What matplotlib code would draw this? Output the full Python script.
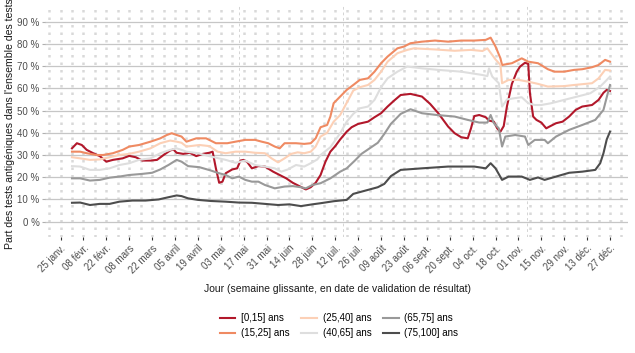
import matplotlib
matplotlib.use('Agg')
import matplotlib.pyplot as plt
import matplotlib.ticker as mticker
import pandas as pd

plt.rcParams['font.family'] = ['Liberation Sans', 'DejaVu Sans']

# Part des tests antigéniques (%), année 2021
dates_0_15 = ['02-01', '02-04', '02-07', '02-10', '02-14', '02-18', '02-22', '02-26', '03-04', '03-08',
              '03-12', '03-16', '03-21', '03-25', '03-29', '04-02', '04-04', '04-06', '04-10', '04-14',
              '04-18', '04-22', '04-26', '04-28', '04-30', '05-02', '05-04', '05-06', '05-10', '05-13',
              '05-15', '05-17', '05-19', '05-22', '05-26', '05-30', '06-04', '06-08', '06-12', '06-16',
              '06-20', '06-24', '06-27', '06-30', '07-03', '07-06', '07-09', '07-12', '07-15', '07-19',
              '07-22', '07-26', '08-01', '08-05', '08-09', '08-13', '08-17', '08-21', '08-27', '09-03',
              '09-08', '09-13', '09-19', '09-23', '09-27', '10-01', '10-03', '10-05', '10-08', '10-12',
              '10-14', '10-17', '10-19', '10-21', '10-23', '10-25', '10-28', '10-31', '11-02', '11-05',
              '11-07', '11-08', '11-10', '11-12', '11-15', '11-18', '11-20', '11-24', '11-28', '12-02',
              '12-06', '12-10', '12-16', '12-20', '12-23', '12-25', '12-27']
part_0_15 = [33, 35.3, 34.5, 32.3, 30.8, 29.5, 27, 27.8, 28.5, 29.6,
             29, 27.5, 27.5, 27.8, 30, 32, 32.5, 31, 30.5, 31,
             29.5, 30.5, 31, 31.5, 24, 17.5, 18, 21.8, 23.5, 24,
             27.5, 27.8, 27, 24, 25, 24.8, 22.5, 21, 19.5, 17.5,
             16, 14.5, 15.5, 17.5, 21, 27, 31.5, 34, 37, 40.5,
             42.5, 44, 45, 47, 48.8, 51.8, 54.5, 57, 57.5, 56.3,
             53, 48.8, 42.8, 39.8, 38, 37.5, 42, 47.5, 48, 47,
             45.5, 45, 42, 40.5, 43, 52, 62, 67.5, 69.8, 71.5,
             71, 58, 47.3, 45.8, 44.6, 42, 42.8, 44.3, 45, 47.3,
             50.3, 51.8, 52.5, 54.8, 58, 59.3, 58.8]

dates_15_25 = ['02-01', '02-06', '02-10', '02-16', '02-20', '02-26', '03-04', '03-08', '03-14', '03-21',
               '03-27', '03-31', '04-03', '04-06', '04-09', '04-12', '04-18', '04-24', '04-30', '05-07',
               '05-12', '05-18', '05-24', '05-28', '06-01', '06-05', '06-08', '06-11', '06-14', '06-18',
               '06-23', '06-27', '06-30', '07-03', '07-07', '07-09', '07-11', '07-15', '07-19', '07-23',
               '07-27', '08-01', '08-05', '08-09', '08-13', '08-19', '08-23', '08-27', '09-03', '09-11',
               '09-19', '09-27', '10-05', '10-12', '10-15', '10-16', '10-18', '10-21', '10-22', '10-28',
               '11-03', '11-07', '11-13', '11-19', '11-23', '11-29', '12-05', '12-10', '12-16', '12-20',
               '12-24', '12-27']
part_15_25 = [31.5, 31.5, 30.8, 30, 30, 30.8, 32.3, 33.8, 34.5, 36,
              37.5, 39, 39.8, 39, 38.3, 36, 37.5, 37.5, 35.3, 35.3,
              36, 36.8, 36.8, 36, 35.3, 33.8, 33, 35.3, 35.3, 35.3,
              35, 35.3, 37.5, 42.5, 43.5, 47.3, 53.3, 56.3, 59.3, 61.5,
              63.8, 64.5, 67.5, 71.3, 74.3, 78, 78.8, 80.3, 81, 81.5,
              81, 81.5, 81.5, 81.8, 82.8, 81.5, 78.8, 73.5, 70.5, 71.3,
              73.5, 72, 71.3, 68.6, 67.5, 67.5, 68.3, 68.6, 69.5, 70.5,
              72.8, 72]

dates_25_40 = ['02-01', '02-06', '02-12', '02-18', '02-24', '03-02', '03-08', '03-14', '03-21', '03-27',
               '04-02', '04-06', '04-09', '04-12', '04-20', '04-26', '05-01', '05-06', '05-12', '05-18',
               '05-24', '05-30', '06-03', '06-07', '06-11', '06-15', '06-19', '06-23', '06-27', '06-30',
               '07-03', '07-07', '07-11', '07-15', '07-19', '07-23', '07-27', '08-01', '08-05', '08-09',
               '08-13', '08-19', '08-25', '08-29', '09-11', '09-23', '10-03', '10-10', '10-13', '10-16',
               '10-18', '10-21', '10-22', '10-26', '11-01', '11-07', '11-13', '11-19', '11-29', '12-05',
               '12-16', '12-20', '12-24', '12-27']
part_25_40 = [29, 28.5, 27.8, 28, 29, 30, 30.5, 31.5, 33, 35.3,
              36.5, 36, 35.5, 33.8, 34.5, 34, 31.5, 30.8, 31.5, 31.5,
              31, 30.8, 28.5, 26.7, 28.5, 30.5, 31.2, 30.8, 31.5, 33.8,
              38.3, 40, 45, 48, 53.5, 59, 60.5, 61.5, 63.8, 67.5,
              72, 75.8, 77.3, 78, 77.5, 76.9, 77.3, 76.8, 78, 75,
              73, 70.5, 62.3, 63.8, 63.8, 63, 62, 60.8, 61, 61.5,
              62.3, 64.5, 68.3, 68]

dates_40_65 = ['02-01', '02-06', '02-12', '02-18', '02-24', '03-02', '03-08', '03-14', '03-21', '03-27',
               '04-02', '04-06', '04-09', '04-12', '04-19', '04-27', '05-06', '05-12', '05-18', '05-24',
               '05-30', '06-05', '06-09', '06-13', '06-18', '06-23', '06-27', '07-01', '07-03', '07-09',
               '07-15', '07-19', '07-23', '07-27', '08-01', '08-05', '08-09', '08-13', '08-19', '08-25',
               '09-03', '09-13', '09-27', '10-10', '10-13', '10-14', '10-16', '10-20', '10-22', '10-25',
               '10-29', '11-03', '11-07', '11-11', '11-15', '11-21', '11-29', '12-07', '12-15', '12-21',
               '12-24', '12-27']
part_40_65 = [25, 24.8, 23.3, 23.3, 24, 25.5, 26.3, 27.8, 28.5, 30.8,
              32.3, 33, 32.3, 31.5, 30.8, 29.3, 27.8, 26.5, 27.5, 25.5,
              24.8, 24, 22.5, 23.5, 25.5, 24.8, 26.3, 28, 30, 33.5,
              39.8, 45, 48.5, 51, 51.8, 54.8, 60.5, 64.5, 67.5, 69.8,
              69, 68.3, 67.5, 66, 65.5, 69, 65.3, 62.3, 51.8, 55,
              55.5, 56, 53.3, 52.5, 52.5, 53.3, 54.8, 56.3, 57.8, 60.8,
              63, 65.3]

dates_65_75 = ['02-01', '02-06', '02-12', '02-18', '02-24', '03-02', '03-08', '03-16', '03-22', '03-27',
               '04-01', '04-06', '04-09', '04-13', '04-20', '04-27', '05-01', '05-06', '05-10', '05-14',
               '05-18', '05-22', '05-26', '05-30', '06-05', '06-11', '06-16', '06-21', '06-24', '06-28',
               '07-03', '07-09', '07-15', '07-19', '07-24', '07-28', '08-01', '08-07', '08-11', '08-15',
               '08-21', '08-27', '09-03', '09-12', '09-23', '10-01', '10-08', '10-13', '10-15', '10-17',
               '10-20', '10-22', '10-24', '10-30', '11-05', '11-07', '11-11', '11-17', '11-19', '11-24',
               '12-02', '12-10', '12-18', '12-23', '12-25', '12-27']
part_65_75 = [19.5, 19.5, 18.5, 18.8, 19.8, 20.3, 21, 21.5, 22, 23.5,
              25.5, 27.8, 27, 25, 24.5, 23, 22, 21, 19.5, 20.3,
              18.8, 18, 18, 16.5, 15, 15.8, 16, 15.5, 15, 16.5,
              17.3, 19.5, 22.5, 24, 27.5, 30.5, 32.5, 35.5, 39.5, 44,
              48.5, 50.6, 48.8, 48, 47.3, 45.8, 44.6, 44.6, 48, 44.3,
              42, 33.8, 38.3, 39, 38.3, 34.5, 36.8, 36.8, 35.3, 38.3,
              41.3, 43.5, 45.8, 50.3, 56, 61.5]

dates_75_100 = ['02-01', '02-06', '02-12', '02-18', '02-24', '03-02', '03-10', '03-18', '03-26', '04-01',
                '04-06', '04-09', '04-13', '04-19', '04-27', '05-06', '05-14', '05-22', '05-30', '06-07',
                '06-14', '06-21', '06-28', '07-03', '07-11', '07-19', '07-23', '08-01', '08-07', '08-11',
                '08-15', '08-21', '09-03', '09-19', '10-05', '10-12', '10-15', '10-18', '10-22', '10-26',
                '11-03', '11-08', '11-13', '11-17', '11-24', '12-02', '12-10', '12-18', '12-21', '12-23',
                '12-25', '12-27']
part_75_100 = [8.5, 8.6, 7.5, 8, 8, 9, 9.5, 9.5, 10, 11,
               11.8, 11.5, 10.5, 9.8, 9.3, 9, 8.6, 8.5, 8, 7.5,
               7.8, 7, 7.8, 8.3, 9.2, 9.8, 12.5, 14.3, 15.5, 17,
               20.5, 23.3, 24, 24.8, 24.8, 24, 26.3, 24, 18.8, 20.3,
               20.3, 18.8, 19.9, 18.8, 20.3, 22, 22.5, 23.3, 26.3, 30.8,
               37, 40.5]

classes = ['[0,15] ans', '(15,25] ans', '(25,40] ans', '(40,65] ans', '(65,75] ans', '(75,100] ans']
couleurs = ['#b2182b', '#ef8a62', '#fcd0b6', '#dedede', '#999999', '#4d4d4d']
series = [(dates_0_15, part_0_15), (dates_15_25, part_15_25), (dates_25_40, part_25_40),
          (dates_40_65, part_40_65), (dates_65_75, part_65_75), (dates_75_100, part_75_100)]

tick_labels = ['25 janv.', '08 févr.', '22 févr.', '08 mars', '22 mars', '05 avril', '19 avril',
               '03 mai', '17 mai', '31 mai', '14 juin', '28 juin', '12 juil.', '26 juil.',
               '09 août', '23 août', '06 sept.', '20 sept.', '04 oct.', '18 oct.', '01 nov.',
               '15 nov.', '29 nov.', '13 déc.', '27 déc.']
# lignes verticales fines visibles sur le graphique
marqueurs = ['2021-05-14', '2021-07-17', '2021-11-06']


def to_dates(md):
    return pd.to_datetime(['2021-' + d for d in md])


fig = plt.figure(figsize=(6.35, 3.53), dpi=100)
ax = fig.add_axes([45 / 635, 1 - 237 / 353, 583 / 635, 232 / 353])

major = pd.date_range('2021-01-25', periods=len(tick_labels), freq='14D')
minor = pd.date_range('2021-01-18', '2022-01-03', freq='7D')
ax.set_xticks(major)
ax.set_xticklabels(tick_labels, rotation=45, ha='right', va='top', rotation_mode='anchor')
ax.set_xticks(minor, minor=True)
ax.set_xlim(pd.Timestamp('2021-01-15 12:00'), pd.Timestamp('2022-01-07'))

ax.set_yticks(range(0, 100, 10))
ax.yaxis.set_major_formatter(mticker.FuncFormatter(lambda v, p: f'{int(v)} %'))
ax.set_ylim(-6.9, 97.5)

for s in ax.spines.values():
    s.set_visible(False)

ax.grid(axis='y', which='major', color='#c6c6c6', lw=0.9)
ax.grid(axis='x', which='both', color='#d9d9d9', lw=1.8, ls=(0, (1.0, 2.0)))
for m in marqueurs:
    ax.axvline(pd.Timestamp(m), color='#c4c4c4', lw=0.5, ls=(0, (4, 4)), zorder=1)

ax.tick_params(axis='x', which='major', length=2.5, width=0.8, color='#333333',
               labelsize=7, labelcolor='#4d4d4d', pad=2)
ax.tick_params(axis='x', which='minor', length=0)
ax.tick_params(axis='y', length=2.5, width=0.8, color='#b0b0b0',
               labelsize=7, labelcolor='#4d4d4d', pad=1.5)

handles = []
for (d, v), c, lab in zip(series, couleurs, classes):
    h, = ax.plot(to_dates(d), v, color=c, lw=1.5, label=lab, zorder=3)
    handles.append(h)

fig.text(10 / 635, 1 - 124 / 353, "Part des tests antigéniques dans l'ensemble des tests",
         rotation=90, ha='center', va='center', fontsize=7.6, color='#1a1a1a')
fig.text(338 / 635, 1 - 289 / 353, 'Jour (semaine glissante, en date de validation de résultat)',
         ha='center', va='center', fontsize=7.5, color='#1a1a1a')

fig.legend(handles, classes, ncol=3, loc='center', bbox_to_anchor=(339 / 635, 1 - 325.5 / 353),
           frameon=False, fontsize=7, handlelength=1.6, columnspacing=1.2, handletextpad=0.6,
           labelspacing=0.5)

fig.savefig('out.png', dpi=100)
